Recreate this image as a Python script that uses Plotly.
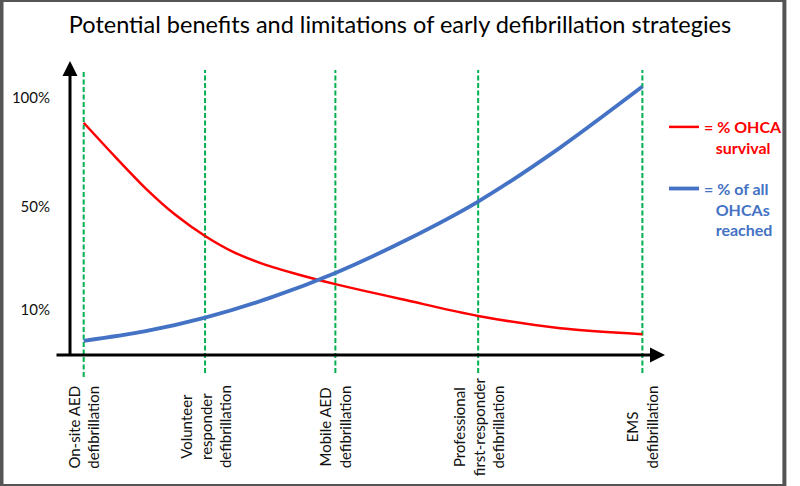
import plotly.graph_objects as go

# ---------------- data (schematic units) ----------------
strategies = [
    "On-site AED<br>defibrillation",
    "Volunteer<br>responder<br>defibrillation",
    "Mobile AED<br>defibrillation",
    "Professional<br>first-responder<br>defibrillation",
    "EMS<br>defibrillation",
]
strategy_x = [2.3, 22.7, 44.6, 68.6, 96.2]

survival_x = [2.3, 7.6, 12.7, 17.7, 22.7, 27.5, 32.4, 38.5, 44.6, 56.6, 68.6, 82.4, 96.2]
survival_y = [79.0, 67.4, 56.7, 47.7, 40.5, 35.0, 31.0, 27.3, 24.1, 18.6, 13.3, 9.1, 7.1]

reached_x = [2.3, 12.5, 22.7, 33.7, 44.6, 56.6, 68.6, 82.2, 96.2]
reached_y = [4.8, 8.0, 12.7, 19.5, 27.9, 39.2, 52.2, 70.3, 91.3]

tick_vals = [15.3, 50.3, 87.4]
tick_text = ["10%", "50%", "100%"]

title_text = "Potential benefits and limitations of early defibrillation strategies"
survival_lines = ["= % OHCA", "survival"]
reached_lines = ["= % of all", "OHCAs", "reached"]

# ---------------- styles ----------------
RED = "#FF0000"
BLUE = "#4472C4"
GREEN = "#00B050"
FONT = "Lato"

W, H = 800, 486
ML, MR, MT, MB = 70, 122, 61, 131
PW, PH = W - ML - MR, H - MT - MB


def legend_label(lines, color):
    out = []
    for i, ln in enumerate(lines):
        pad = "" if i == 0 else "\u00a0\u00a0\u00a0"
        out.append("<b><span style='color:" + color + "'>" + pad + ln + "</span></b>")
    return "<br>".join(out)


fig = go.Figure()

fig.add_trace(go.Scatter(
    x=survival_x, y=survival_y, mode="lines", name=legend_label(survival_lines, RED),
    line=dict(color=RED, width=2.5, shape="spline", smoothing=0.8),
    legendgroup="a",
))
fig.add_trace(go.Scatter(
    x=reached_x, y=reached_y, mode="lines", name=legend_label(reached_lines, BLUE),
    line=dict(color=BLUE, width=3.8, shape="spline", smoothing=0.8),
    legendgroup="b",
))

# green dashed vertical lines at each strategy
for i, xv in enumerate(strategy_x):
    fig.add_shape(type="line", xref="x", yref="paper",
                  x0=xv, x1=xv, y0=(-22 if i == 0 else -18) / PH, y1=(355 - 70) / PH,
                  line=dict(color=GREEN, width=2, dash="5px,2.5px"), layer="below")

# strategy labels (rotated)
for xv, lab in zip(strategy_x, strategies):
    fig.add_annotation(x=xv, xref="x", y=-(427 - 355) / PH, yref="paper",
                       text=lab, textangle=-90, showarrow=False,
                       font=dict(family=FONT, size=15, color="#111111"),
                       align="center", xanchor="center", yanchor="middle")

# axis arrows
fig.add_annotation(x=0, y=1, xref="paper", yref="paper", ax=0, ay=296,
                   text="", showarrow=True, arrowhead=2, arrowsize=1,
                   arrowwidth=3, arrowcolor="black", standoff=0)
fig.add_annotation(x=1, y=0, xref="paper", yref="paper", ax=-610, ay=0,
                   text="", showarrow=True, arrowhead=2, arrowsize=1,
                   arrowwidth=3, arrowcolor="black", standoff=0)

# outer grey frame
fig.add_shape(type="rect", xref="paper", yref="paper",
              x0=-ML / PW, x1=1 + MR / PW, y0=-MB / PH, y1=1 + MT / PH,
              line=dict(color="#555555", width=4), layer="above")

fig.update_layout(
    width=W, height=H, autosize=False,
    margin=dict(l=ML, r=MR, t=MT, b=MB),
    paper_bgcolor="white", plot_bgcolor="white",
    title=dict(text=title_text, x=0.5, xref="container", xanchor="center",
               y=1 - 25 / H, yref="container", yanchor="middle",
               font=dict(family=FONT, size=23.5, color="black")),
    xaxis=dict(range=[0, 100], showgrid=False, zeroline=False, showline=False,
               showticklabels=False, ticks=""),
    yaxis=dict(range=[0, 100], showgrid=False, zeroline=False, showline=False,
               tickvals=tick_vals, ticktext=tick_text, ticks="outside",
               ticklen=16, tickcolor="rgba(0,0,0,0)",
               tickfont=dict(family=FONT, size=15, color="#111111")),
    showlegend=True,
    legend=dict(x=(677 - ML) / PW, xanchor="left", y=1 - (110 - MT) / PH, yanchor="top",
                valign="top", tracegroupgap=17, traceorder="grouped",
                bgcolor="rgba(0,0,0,0)", borderwidth=0,
                font=dict(family=FONT, size=16)),
)

fig.write_html(
    "out.html",
    config={"displayModeBar": False, "responsive": False},
    post_script=(
        "document.documentElement.style.margin='0';"
        "document.documentElement.style.overflow='hidden';"
        "document.body.style.margin='0';"
        "document.body.style.overflow='hidden';"
    ),
)
